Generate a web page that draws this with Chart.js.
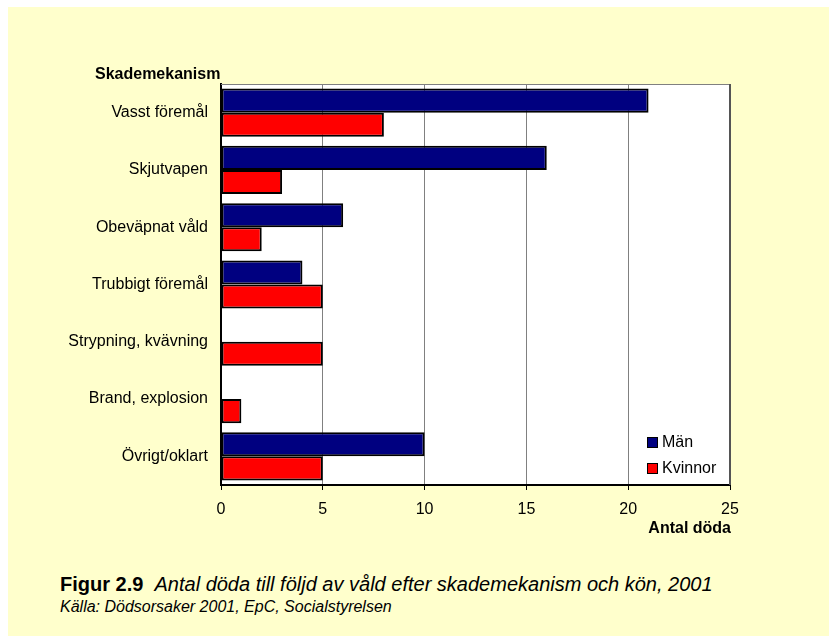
<!DOCTYPE html>
<html>
<head>
<meta charset="utf-8">
<script src="https://cdn.jsdelivr.net/npm/chart.js@4"></script>
<style>
  body { margin: 0; background: #fff; font-family: "Liberation Sans", Arial, sans-serif; }
  #box { position: absolute; left: 8px; top: 7px; width: 821px; height: 629px; background: #FFFFCC; }
  #wrap { position: absolute; left: 0; top: 0; width: 821px; height: 520px; }
  .t { position: absolute; color: #000; white-space: nowrap; line-height: 18px; }
  #ytitle { left: 87px; top: 58px; font-weight: bold; font-size: 16px; }
  #xtitle { right: 98px; top: 512px; font-weight: bold; font-size: 16px; }
  #cap { left: 52px; top: 566px; font-size: 20px; line-height: 22px; }
  #cap i { font-style: italic; }
  #src { left: 52px; top: 591px; font-size: 16px; font-style: italic; }
  #legend { position: absolute; left: 639px; top: 422px; font-size: 16px; }
  .li { display: flex; align-items: center; height: 26px; }
  .sw { width: 9px; height: 9px; border: 1.5px solid #000; margin-right: 4px; }
</style>
</head>
<body>
<div id="box">
  <div id="wrap"><canvas id="c"></canvas></div>
  <div class="t" id="ytitle">Skademekanism</div>
  <div class="t" id="xtitle">Antal döda</div>
  <div id="legend"></div>
  <div class="t" id="cap"><b>Figur 2.9</b>&nbsp; <i>Antal döda till följd av våld efter skademekanism och kön, 2001</i></div>
  <div class="t" id="src">Källa: Dödsorsaker 2001, EpC, Socialstyrelsen</div>
</div>
<script>
const kategorier = [
  "Vasst föremål",
  "Skjutvapen",
  "Obeväpnat våld",
  "Trubbigt föremål",
  "Strypning, kvävning",
  "Brand, explosion",
  "Övrigt/oklart",
];
const man = [21, 16, 6, 4, 0, 0, 10];
const kvinnor = [8, 3, 2, 5, 5, 1, 5];
const xTicks = [0, 5, 10, 15, 20, 25];

const serier = [
  { label: "Män", data: man, color: "#000080" },
  { label: "Kvinnor", data: kvinnor, color: "#FF0000" },
];

// legend inside plot area
const legend = document.getElementById("legend");
serier.forEach((s) => {
  const row = document.createElement("div");
  row.className = "li";
  row.innerHTML = `<span class="sw" style="background:${s.color}"></span>${s.label}`;
  legend.appendChild(row);
});

const frame = {
  id: "frame",
  afterDatasetsDraw(chart) {
    const a = chart.chartArea;
    const ctx = chart.ctx;
    ctx.save();
    ctx.strokeStyle = "#808080";
    ctx.lineWidth = 1;
    ctx.beginPath();
    ctx.moveTo(a.left, a.top + 0.5);
    ctx.lineTo(a.right, a.top + 0.5);
    ctx.stroke();
    ctx.strokeStyle = "#555";
    ctx.lineWidth = 2;
    ctx.beginPath();
    ctx.moveTo(a.right, a.top);
    ctx.lineTo(a.right, a.bottom);
    ctx.stroke();
    ctx.restore();
  },
};

const whiteArea = {
  id: "whiteArea",
  beforeDraw(chart) {
    const a = chart.chartArea;
    chart.ctx.save();
    chart.ctx.fillStyle = "#fff";
    chart.ctx.fillRect(a.left, a.top, a.right - a.left, a.bottom - a.top);
    chart.ctx.restore();
  },
};

const data = {
  labels: kategorier,
  datasets: serier.map((s) => ({
    label: s.label,
    data: s.data,
    backgroundColor: s.color,
    borderColor: "#000",
    borderWidth: 2,
    borderSkipped: false,
    categoryPercentage: 0.84,
    barPercentage: 1,
  })),
};

const config = {
  type: "bar",
  data: data,
  options: {
    indexAxis: "y",
    responsive: true,
    maintainAspectRatio: false,
    animation: false,
    layout: { padding: { top: 77, right: 99, left: 0, bottom: 0 } },
    scales: {
      x: {
        min: 0,
        max: 25,
        afterBuildTicks: (axis) => {
          axis.ticks = xTicks.map((v) => ({ value: v }));
        },
        afterFit: (axis) => {
          axis.height = 42;
        },
        grid: {
          color: "#808080",
          lineWidth: 1,
          drawTicks: true,
          tickLength: 5,
          tickColor: "#000",
        },
        border: { color: "#000", width: 2 },
        ticks: {
          color: "#000",
          font: { family: "Liberation Sans", size: 16 },
          padding: 10,
          maxRotation: 0,
        },
      },
      y: {
        afterFit: (axis) => {
          axis.width = 213;
        },
        grid: { display: false, drawTicks: false },
        border: { color: "#000", width: 2 },
        ticks: {
          color: "#000",
          font: { family: "Liberation Sans", size: 16 },
          padding: 13,
        },
      },
    },
    plugins: {
      legend: { display: false },
      tooltip: { enabled: false },
    },
  },
  plugins: [whiteArea, frame],
};

const chart = new Chart(document.getElementById("c"), config);
</script>
</body>
</html>
